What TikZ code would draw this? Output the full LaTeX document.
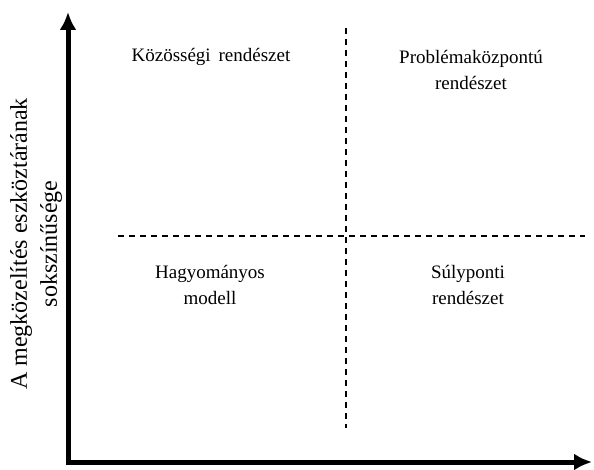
\documentclass[tikz,border=0pt]{standalone}
\usepackage{fontspec}
\setmainfont{Liberation Serif}
\usetikzlibrary{arrows.meta}

\begin{document}
\begin{tikzpicture}[x=1pt,y=1pt,>={Latex[length=18pt,width=17pt]},
  quad/.style={align=center,font=\fontsize{19}{26}\selectfont},
  axislabel/.style={align=center,rotate=90,font=\fontsize{24}{30}\selectfont},
  axis/.style={line width=5pt,miter limit=10},
  divider/.style={line width=1.2pt,dash pattern=on 6pt off 5pt}]
  \useasboundingbox (0,0) rectangle (594,469);

  % Axes
  \coordinate (ytip) at (68,457);
  \coordinate (O) at (68,7);
  \coordinate (xtip) at (592,7);
  \draw[axis,<->] (ytip) -- (O) -- (xtip);
  \node[axislabel] (ylabel) at (36,225) {A megközelítés eszköztárának\\sokszínűsége};

  % Dividers
  \coordinate (vtop) at (346,441);
  \coordinate (vbot) at (346,41);
  \coordinate (hleft) at (118,233);
  \coordinate (hright) at (585,233);
  \draw[divider] (vtop) -- (vbot);
  \draw[divider] (hleft) -- (hright);

  % Quadrants
  \node[quad] (kozossegi) at (211,412) {Közösségi\, rendészet};
  \node[quad] (problema) at (471,399) {Problémaközpontú\\rendészet};
  \node[quad] (hagyomanyos) at (210,184) {Hagyományos\\modell};
  \node[quad] (sulyponti) at (468,184) {Súlyponti\\ rendészet};
\end{tikzpicture}
\end{document}
